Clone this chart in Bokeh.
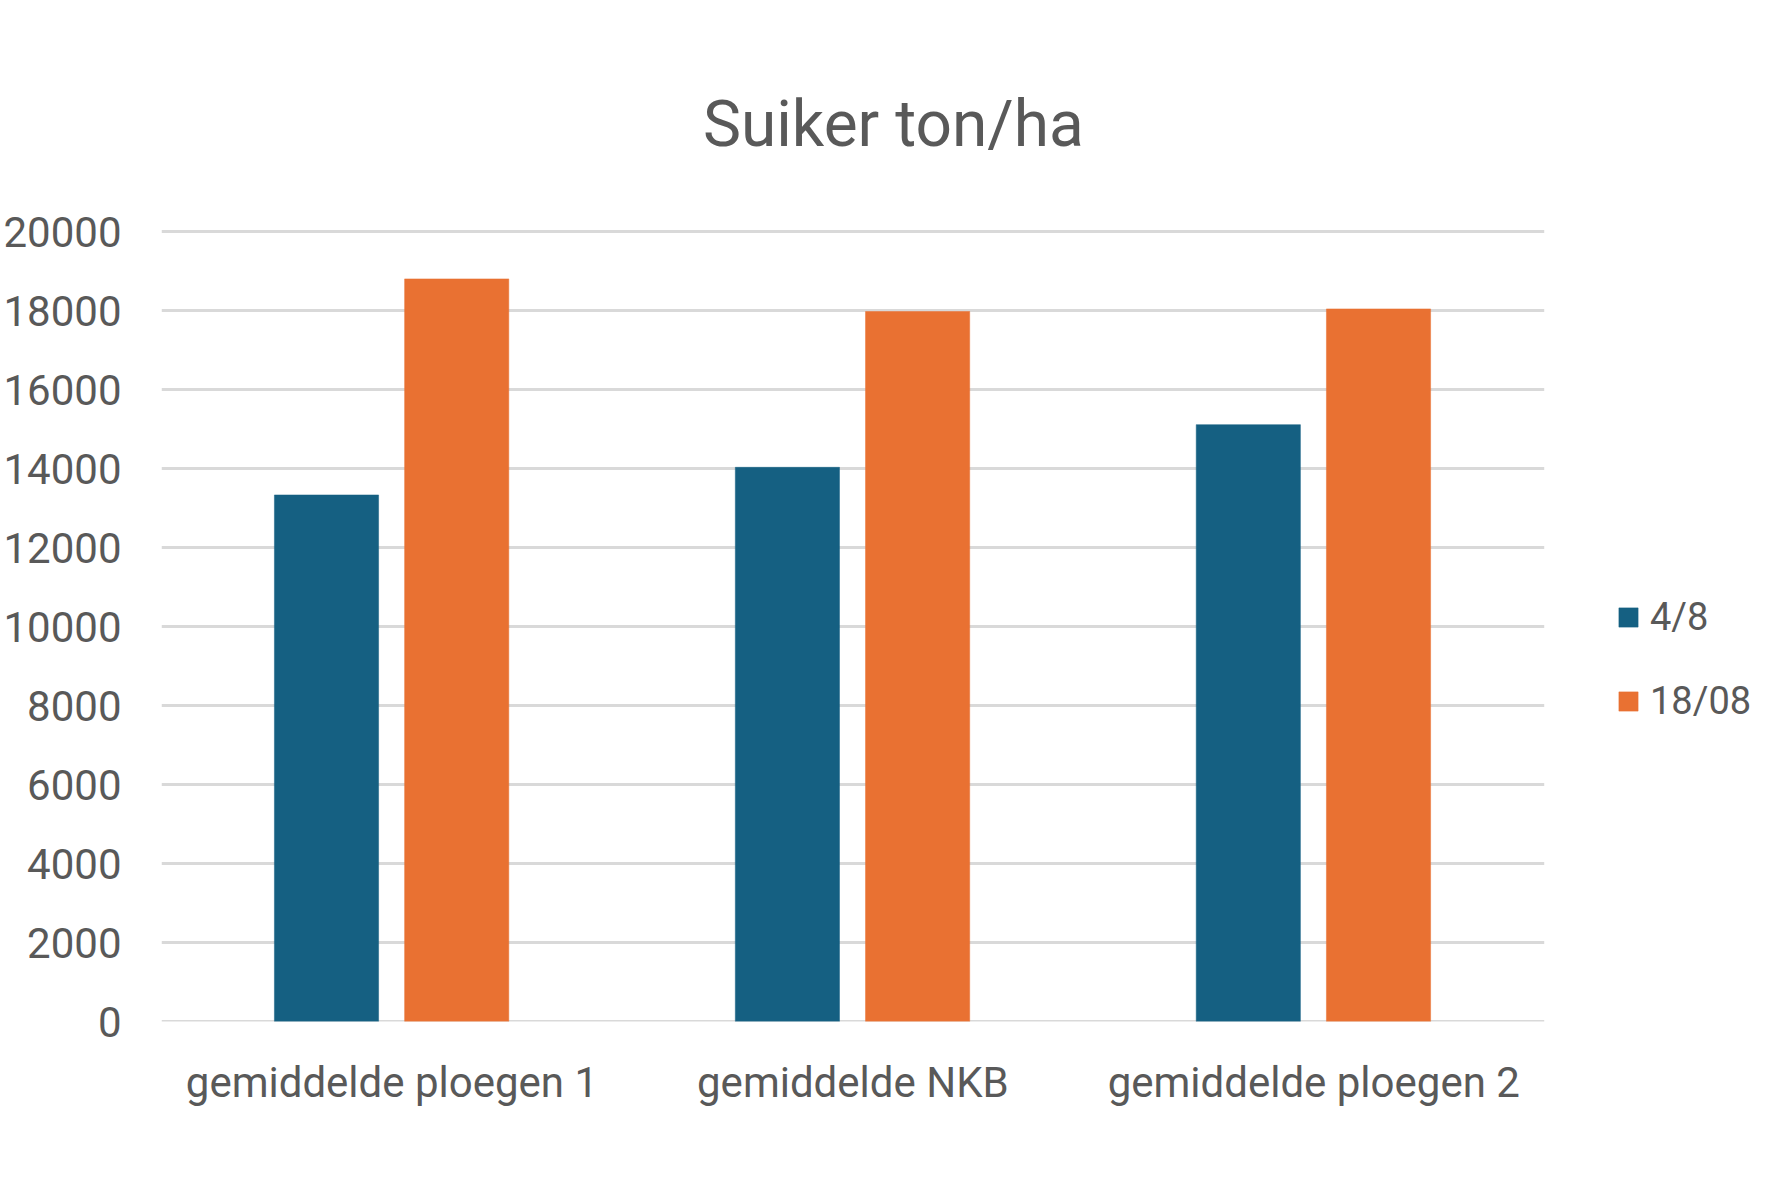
from bokeh.plotting import figure
from bokeh.models import Range1d, FixedTicker, Legend, Label, ColumnDataSource
from bokeh.embed import file_html
from bokeh.resources import INLINE

categories = ["gemiddelde ploegen 1", "gemiddelde NKB", "gemiddelde ploegen 2"]
series_names = ["4/8", "18/08"]
values_4_8 = [13330, 14030, 15110]
values_18_08 = [18800, 17975, 18040]
y_ticks = [0, 2000, 4000, 6000, 8000, 10000, 12000, 14000, 16000, 18000, 20000]
title_text = "Suiker ton/ha"

BLUE = "#156082"
ORANGE = "#E97132"
TEXT = "#595959"
GRID = "#D9D9D9"
FONT = "Roboto"

# category positions on a numeric axis (1, 2, 3)
xpos = [i + 1 for i in range(len(categories))]
n_cat = len(categories)

src = ColumnDataSource(dict(
    xa=[x - 0.142 for x in xpos], xb=[x + 0.1405 for x in xpos],
    a=values_4_8, b=values_18_08))

y_max = y_ticks[-1]
p = figure(
    x_range=Range1d(0.5, 0.5 + 3.4606),
    y_range=Range1d(0, y_max * 1021 / 790),
    width=1756, height=1160,
    output_backend="svg", toolbar_location=None,
    min_border_left=154, min_border_right=0,
    min_border_top=0, min_border_bottom=139,
)
p.outline_line_color = None
p.background_fill_color = "white"
p.border_fill_color = "white"
p.xgrid.grid_line_color = None
p.ygrid.grid_line_color = None

# horizontal gridlines spanning the category area
p.segment(x0=[0.5] * len(y_ticks), x1=[0.5 + n_cat] * len(y_ticks),
          y0=y_ticks, y1=y_ticks, line_color=GRID, line_width=3)

r1 = p.vbar(x="xa", top="a", width=0.226, source=src,
            fill_color=BLUE, line_color=BLUE, line_width=0.5)
r2 = p.vbar(x="xb", top="b", width=0.226, source=src,
            fill_color=ORANGE, line_color=ORANGE, line_width=0.5)

# x axis with category labels
p.xaxis.ticker = FixedTicker(ticks=xpos)
p.xaxis.major_label_overrides = {x: c for x, c in zip(xpos, categories)}
p.xaxis.axis_line_color = None
p.xaxis.major_tick_line_color = None
p.xaxis.minor_tick_line_color = None
p.xaxis.major_label_text_font = FONT
p.xaxis.major_label_text_font_size = "42px"
p.xaxis.major_label_text_color = TEXT
p.xaxis.major_label_standoff = 30

# y axis
p.yaxis.ticker = FixedTicker(ticks=y_ticks)
p.yaxis.axis_line_color = None
p.yaxis.major_tick_line_color = None
p.yaxis.minor_tick_line_color = None
p.yaxis.major_label_text_font = FONT
p.yaxis.major_label_text_font_size = "42px"
p.yaxis.major_label_text_color = TEXT
p.yaxis.major_label_standoff = 34

# title
title = Label(x=0.5 + (885 - 154) / 460.33, y=y_max * (1021 - 124) / 790,
              text=title_text, text_align="center", text_baseline="middle",
              text_font=FONT, text_font_size="64px", text_color=TEXT)
p.add_layout(title)

legend = Legend(items=[(series_names[0], [r1]), (series_names[1], [r2])],
                location=(1455, 298), orientation="vertical")
legend.border_line_color = None
legend.background_fill_alpha = 0
legend.padding = 0
legend.margin = 0
legend.spacing = 40
legend.glyph_width = 24
legend.glyph_height = 24
legend.label_standoff = 10
legend.label_text_font = FONT
legend.label_text_font_size = "38px"
legend.label_text_color = TEXT
p.add_layout(legend, "center")

open("out.html", "w").write(file_html(p, INLINE))
